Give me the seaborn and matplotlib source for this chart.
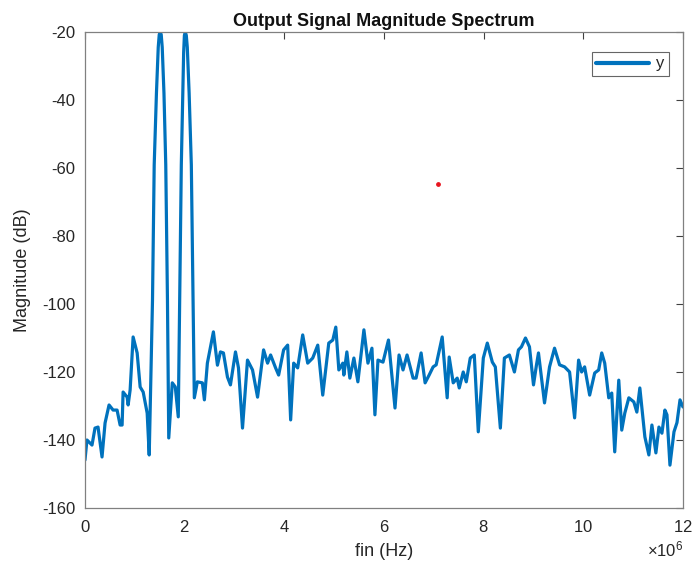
import matplotlib
matplotlib.use("Agg")
import matplotlib.pyplot as plt
import matplotlib.ticker as mticker
import seaborn as sns
import numpy as np
import pandas as pd

# frequency in MHz (scaled to Hz below) and magnitude in dB
freq_mhz = [
    0.000, 0.040, 0.141, 0.201, 0.262, 0.342, 0.403, 0.483, 0.564, 0.644,
    0.705, 0.745, 0.765, 0.846, 0.866, 0.906, 0.966, 1.047, 1.107, 1.168,
    1.248, 1.289, 1.355, 1.389, 1.434, 1.470, 1.490, 1.510, 1.530, 1.550,
    1.585, 1.621, 1.655, 1.681,
    1.752, 1.812, 1.872, 1.900, 1.933, 1.980, 1.995, 2.013, 2.033, 2.053,
    2.090, 2.134, 2.168,
    2.194, 2.255, 2.356, 2.396, 2.456, 2.577, 2.658, 2.718, 2.778, 2.859,
    2.919, 3.020, 3.080, 3.161, 3.261, 3.362, 3.463, 3.584, 3.664, 3.725,
    3.825, 3.886, 3.986, 4.067, 4.127, 4.188, 4.268, 4.369, 4.469, 4.570,
    4.671, 4.771, 4.892, 4.973, 5.033, 5.094, 5.174, 5.194, 5.255, 5.315,
    5.396, 5.476, 5.597, 5.678, 5.758, 5.818, 5.879, 5.980, 6.090, 6.221,
    6.302, 6.382, 6.463, 6.584, 6.644, 6.745, 6.825, 6.906, 6.986, 7.047,
    7.168, 7.268, 7.308, 7.389, 7.469, 7.510, 7.590, 7.651, 7.731, 7.812,
    7.892, 7.993, 8.073, 8.174, 8.234, 8.335, 8.416, 8.516, 8.617, 8.698,
    8.758, 8.839, 8.919, 9.000, 9.060, 9.100, 9.221, 9.322, 9.422, 9.523,
    9.624, 9.724, 9.825, 9.905, 9.966, 10.026, 10.127, 10.228, 10.308, 10.369,
    10.429, 10.510, 10.570, 10.630, 10.711, 10.771, 10.832, 10.913, 11.013, 11.074,
    11.134, 11.235, 11.315, 11.376, 11.456, 11.517, 11.577, 11.637, 11.678, 11.738,
    11.819, 11.879, 11.940, 12.000,
]
mag_db = [
    -145.9, -140.0, -141.5, -136.5, -136.2, -145.0, -135.0, -129.7, -131.2, -131.2,
    -135.6, -135.6, -125.9, -127.4, -129.7, -125.3, -109.7, -114.4, -124.4, -125.9,
    -132.1, -144.4, -98.8, -59.1, -38.0, -24.5, -20.8, -20.0, -20.8, -24.5,
    -38.0, -59.1, -98.8, -139.4,
    -123.2, -124.4, -133.2, -98.8, -59.1, -26.0, -21.0, -20.0, -21.0, -24.5,
    -38.0, -59.1, -98.8,
    -127.6, -122.9, -123.2, -128.2, -117.4, -108.2, -118.0, -114.1, -114.4, -121.5,
    -123.8, -114.1, -118.8, -136.5, -116.5, -119.4, -127.4, -113.5, -117.4, -115.0,
    -118.8, -120.9, -113.5, -112.1, -134.1, -117.4, -118.8, -109.1, -117.4, -115.9,
    -112.1, -126.8, -111.5, -110.6, -106.8, -119.4, -117.4, -120.9, -114.1, -121.8,
    -115.9, -122.9, -107.6, -117.4, -113.0, -132.6, -116.5, -117.1, -110.6, -130.6,
    -115.0, -119.4, -115.0, -121.8, -121.8, -114.4, -123.2, -120.9, -118.5, -117.9,
    -109.7, -127.6, -115.6, -123.2, -121.8, -124.7, -120.0, -122.9, -115.9, -115.0,
    -137.6, -115.9, -111.5, -117.1, -118.5, -136.5, -115.9, -115.0, -120.0, -113.5,
    -112.6, -110.0, -112.6, -123.8, -117.9, -114.4, -129.1, -118.5, -113.0, -117.9,
    -118.5, -120.0, -133.5, -116.5, -120.0, -118.5, -126.8, -120.3, -119.4, -114.4,
    -117.4, -127.6, -126.2, -143.5, -122.4, -137.1, -132.1, -127.6, -128.8, -131.8,
    -124.7, -139.1, -144.4, -135.6, -143.8, -136.2, -138.0, -131.2, -132.6, -147.4,
    -137.6, -134.9, -128.2, -130.3,
]
series_name = ["y"]
marker_mhz = [7.087]
marker_db = [-64.7]
x_ticks_mhz = [0, 2, 4, 6, 8, 10, 12]
y_ticks = [-160, -140, -120, -100, -80, -60, -40, -20]

df = pd.DataFrame({"fin (Hz)": np.array(freq_mhz) * 1e6,
                   "Magnitude (dB)": mag_db,
                   "series": series_name[0]})

sns.set_style("white")
plt.rcParams["font.family"] = ["Liberation Sans", "DejaVu Sans"]
plt.rcParams["mathtext.fontset"] = "custom"
plt.rcParams["mathtext.rm"] = "Liberation Sans"
plt.rcParams["axes.unicode_minus"] = False

fig = plt.figure(figsize=(6.92, 5.66), dpi=100)
ax = fig.add_axes([0.1228, 0.1025, 0.8642, 0.841])

sns.lineplot(data=df, x="fin (Hz)", y="Magnitude (dB)", hue="series",
             palette=["#0072BD"], linewidth=2.3, sort=False, estimator=None, ax=ax)
ax.scatter(np.array(marker_mhz) * 1e6, marker_db, s=6, color="#e8141e", zorder=5)

ax.set_xlim(0, 12e6)
ax.set_ylim(-160, -20)
ax.set_xticks(np.array(x_ticks_mhz) * 1e6)
ax.set_yticks(y_ticks)
fmt = mticker.ScalarFormatter(useMathText=True)
fmt.set_powerlimits((6, 6))
ax.xaxis.set_major_formatter(fmt)
ax.xaxis.get_offset_text().set_fontsize(12)
ax.xaxis.get_offset_text().set_color("#404040")

ax.tick_params(direction="in", length=5, width=0.8, colors="#404040",
               labelsize=12, top=True, right=True, labelcolor="#262626")
ax.tick_params(axis="x", pad=8)
ax.tick_params(axis="y", pad=7)
for sp in ax.spines.values():
    sp.set_color("#808080")
    sp.set_linewidth(0.9)

ax.set_xlabel("fin (Hz)", fontsize=13, color="#262626", labelpad=6)
ax.set_ylabel("Magnitude (dB)", fontsize=13, color="#262626", labelpad=8)
ax.set_title("Output Signal Magnitude Spectrum", fontsize=13, fontweight="bold",
             color="#111111", pad=4)

leg = ax.legend(loc="upper right", fontsize=12, frameon=True, fancybox=False,
                edgecolor="#404040", handlelength=3.2, borderpad=0.25,
                handletextpad=0.4, bbox_to_anchor=(0.99, 0.975))
leg.get_frame().set_linewidth(0.8)
for line in leg.get_lines():
    line.set_linewidth(3)

fig.savefig("out.png", dpi=100, facecolor="white")
